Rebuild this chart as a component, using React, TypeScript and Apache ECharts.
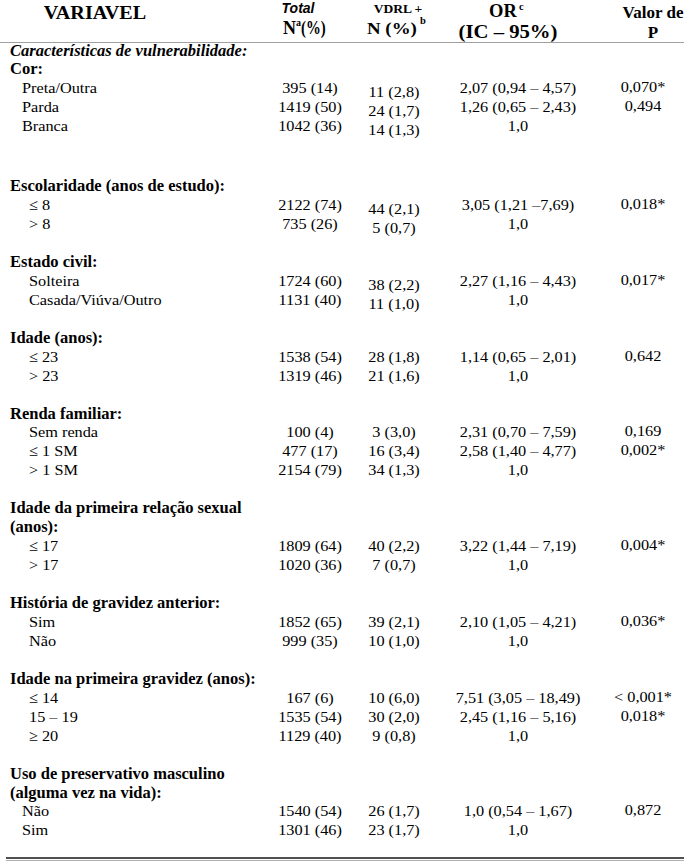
import React, { useEffect, useRef } from "react";
import * as echarts from "echarts";

// ---- Column headers ----
const headVar = "VARIAVEL";
const headTotal = ["Total", "N", "a", "(%)"];
const headVdrl = ["VDRL +", "N (%)", "b"];
const headOr = ["OR", "c", "(IC – 95%)"];
const headP = ["Valor de", "P"];
const sectionTitle = "Características de vulnerabilidade:";

// ---- Groups ----
const groupNames = [
  "Cor:",
  "Escolaridade (anos de estudo):",
  "Estado civil:",
  "Idade (anos):",
  "Renda familiar:",
  "Idade da primeira relação sexual\n(anos):",
  "História de gravidez anterior:",
  "Idade na primeira gravidez (anos):",
  "Uso de preservativo masculino\n(alguma vez na vida):",
];

// ---- Rows ----
const rowLabels = [
  "Preta/Outra", "Parda", "Branca",
  "≤ 8", "> 8",
  "Solteira", "Casada/Viúva/Outro",
  "≤ 23", "> 23",
  "Sem renda", "≤ 1 SM", "> 1 SM",
  "≤ 17", "> 17",
  "Sim", "Não",
  "≤ 14", "15 – 19", "≥ 20",
  "Não", "Sim",
];
const rowGroup = [0, 0, 0, 1, 1, 2, 2, 3, 3, 4, 4, 4, 5, 5, 6, 6, 7, 7, 7, 8, 8];
const totalN = [395, 1419, 1042, 2122, 735, 1724, 1131, 1538, 1319, 100, 477, 2154, 1809, 1020, 1852, 999, 167, 1535, 1129, 1540, 1301];
const totalPct = [14, 50, 36, 74, 26, 60, 40, 54, 46, 4, 17, 79, 64, 36, 65, 35, 6, 54, 40, 54, 46];
const vdrlN = [11, 24, 14, 44, 5, 38, 11, 28, 21, 3, 16, 34, 40, 7, 39, 10, 10, 30, 9, 26, 23];
const vdrlPct = ["2,8", "1,7", "1,3", "2,1", "0,7", "2,2", "1,0", "1,8", "1,6", "3,0", "3,4", "1,3", "2,2", "0,7", "2,1", "1,0", "6,0", "2,0", "0,8", "1,7", "1,7"];
const orIc = [
  "2,07 (0,94 – 4,57)", "1,26 (0,65 – 2,43)", "1,0",
  "3,05 (1,21 –7,69)", "1,0",
  "2,27 (1,16 – 4,43)", "1,0",
  "1,14 (0,65 – 2,01)", "1,0",
  "2,31 (0,70 – 7,59)", "2,58 (1,40 – 4,77)", "1,0",
  "3,22 (1,44 – 7,19)", "1,0",
  "2,10 (1,05 – 4,21)", "1,0",
  "7,51 (3,05 – 18,49)", "2,45 (1,16 – 5,16)", "1,0",
  "1,0 (0,54 – 1,67)", "1,0",
];
const pValues = ["0,070*", "0,494", "", "0,018*", "", "0,017*", "", "0,642", "", "0,169", "0,002*", "", "0,004*", "", "0,036*", "", "< 0,001*", "0,018*", "", "0,872", ""];

const SERIF = '"Liberation Serif", "Times New Roman", serif';
const SANS = '"Liberation Sans", Arial, sans-serif';

function txt(text: string, x: number, y: number, opts: any = {}) {
  return {
    type: "text",
    x,
    y,
    scaleX: opts.sx || 1,
    silent: true,
    style: {
      text,
      fill: "#000",
      fontFamily: opts.family || SERIF,
      fontSize: opts.size || 15.5,
      fontWeight: opts.weight || "normal",
      fontStyle: opts.style || "normal",
      align: opts.align || "left",
      verticalAlign: "middle",
    },
  };
}

function buildGraphics() {
  const els: any[] = [];
  const colTotal = 310;
  const colVdrl = 394;
  const colOr = 518;
  const colP = 643;
  const pitch = 18.95;
  const body = { sx: 1.05 };

  // header
  els.push(txt(headVar, 95, 13, { weight: "bold", size: 18, align: "center", sx: 1.12 }));
  els.push(txt(headTotal[0], 298, 8, { family: SANS, weight: "bold", style: "italic", size: 14, align: "center" }));
  els.push(txt(headTotal[1], 283, 28, { weight: "bold", size: 18 }));
  els.push(txt(headTotal[2], 296, 22, { weight: "bold", size: 10 }));
  els.push(txt(headTotal[3], 301, 28, { weight: "bold", size: 18.5, sx: 0.8 }));
  els.push(txt(headVdrl[0], 398, 8, { weight: "bold", size: 13.5, align: "center" }));
  els.push(txt(headVdrl[1], 367, 28, { weight: "bold", size: 17.5, sx: 1.08 }));
  els.push(txt(headVdrl[2], 420, 20, { weight: "bold", size: 10.5 }));
  els.push(txt(headOr[0], 489, 11, { weight: "bold", size: 18.5 }));
  els.push(txt(headOr[1], 519, 6, { weight: "bold", size: 10.5 }));
  els.push(txt(headOr[2], 508, 31, { weight: "bold", size: 18.5, align: "center", sx: 1.12 }));
  els.push(txt(headP[0], 653, 12, { weight: "bold", size: 17, align: "center" }));
  els.push(txt(headP[1], 653, 32, { weight: "bold", size: 17, align: "center" }));

  els.push({
    type: "line",
    silent: true,
    shape: { x1: 0, y1: 42.5, x2: 684, y2: 42.5 },
    style: { stroke: "#a0a0a0", lineWidth: 1.2 },
  });

  let y = 50;
  els.push(txt(sectionTitle, 10, y, { weight: "bold", style: "italic", size: 16.5 }));

  let lastGroup = -1;
  for (let i = 0; i < rowLabels.length; i++) {
    const g = rowGroup[i];
    if (g !== lastGroup) {
      if (lastGroup >= 0) y += lastGroup === 0 ? pitch * 3 + 3 : pitch * 2;
      else y += pitch;
      const lines = groupNames[g].split("\n");
      lines.forEach((ln, k) => {
        els.push(txt(ln, 10, y, { weight: "bold", size: 16.5 }));
        if (k < lines.length - 1) y += pitch;
      });
      lastGroup = g;
    }
    y += pitch;
    const indent = g === 0 || g === 8 ? 22 : 29;
    const vShift = g <= 2 ? 4 : 0;
    els.push(txt(rowLabels[i], indent, y, body));
    els.push(txt(`${totalN[i]} (${totalPct[i]})`, colTotal, y, { ...body, align: "center" }));
    els.push(txt(`${vdrlN[i]} (${vdrlPct[i]})`, colVdrl, y + vShift, { ...body, align: "center" }));
    els.push(txt(orIc[i], colOr, y, { ...body, align: "center" }));
    if (pValues[i]) els.push(txt(pValues[i], colP, y - 1, { ...body, align: "center" }));
  }

  els.push({
    type: "line",
    silent: true,
    shape: { x1: 6, y1: 858, x2: 684, y2: 858 },
    style: { stroke: "#505050", lineWidth: 2 },
  });
  els.push({
    type: "line",
    silent: true,
    shape: { x1: 6, y1: 860.5, x2: 684, y2: 860.5 },
    style: { stroke: "#b0b0b0", lineWidth: 1 },
  });
  return els;
}

export default function App() {
  const ref = useRef<HTMLDivElement>(null);
  useEffect(() => {
    if (!ref.current) return;
    const chart = echarts.init(ref.current, undefined, { renderer: "svg" });
    chart.setOption({
      animation: false,
      backgroundColor: "#ffffff",
      graphic: { elements: buildGraphics() },
    });
    return () => chart.dispose();
  }, []);
  return (
    <div
      ref={ref}
      style={{ position: "absolute", left: 0, top: 0, width: 684, height: 867, background: "#fff" }}
    />
  );
}
